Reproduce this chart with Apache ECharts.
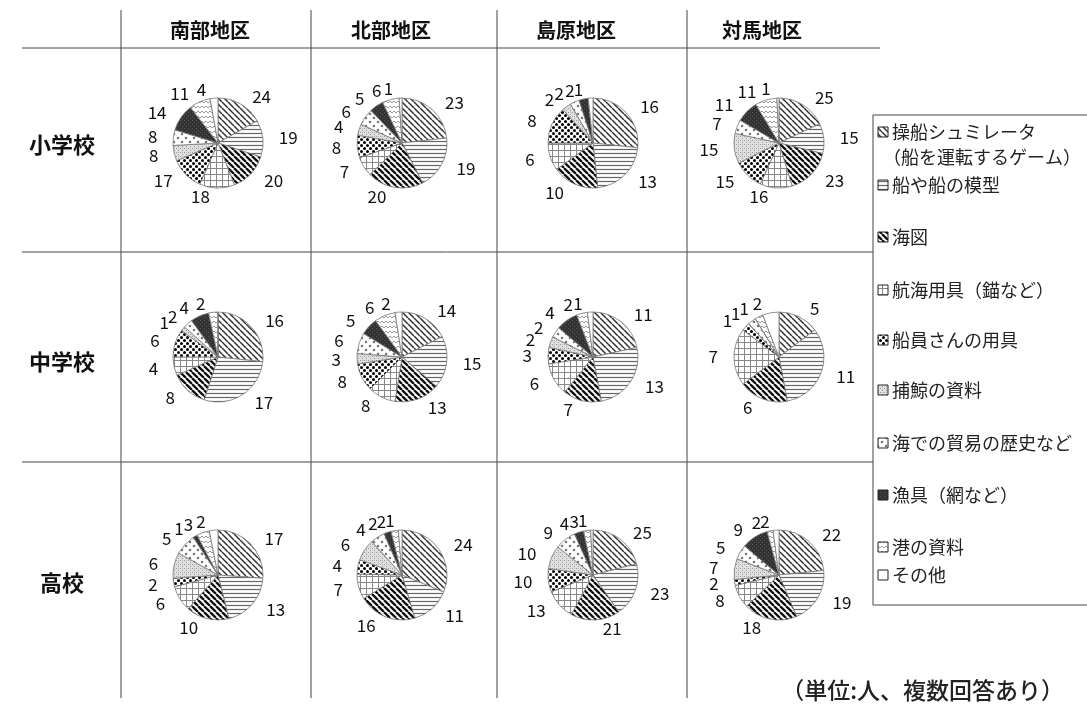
<!DOCTYPE html>
<html><head><meta charset="utf-8">
<script src="https://cdn.jsdelivr.net/npm/echarts@6/dist/echarts.min.js"></script>
<style>html,body{margin:0;padding:0;background:#fff}#c{width:1087px;height:709px}</style>
</head><body><div id="c"></div>
<script>
const categories = ['操船シュミレータ（船を運転するゲーム）','船や船の模型','海図','航海用具（錨など）','船員さんの用具','捕鯨の資料','海での貿易の歴史など','漁具（網など）','港の資料','その他'];
const regions = ['南部地区','北部地区','島原地区','対馬地区'];
const schools = ['小学校','中学校','高校'];
// 小学校
const elemNanbu   = [24,19,20,18,17,8,8,14,11,4];
const elemHokubu  = [23,19,20,7,8,4,6,5,6,1];
const elemShimabara = [16,13,10,6,8,2,2,2,0,1];
const elemTsushima = [25,15,23,16,15,15,7,11,11,1];
// 中学校
const juniorNanbu = [16,17,8,4,6,1,2,4,2,0];
const juniorHokubu = [14,15,13,8,8,3,6,5,6,2];
const juniorShimabara = [11,13,7,6,3,2,2,4,2,1];
const juniorTsushima = [5,11,6,7,1,0,1,0,1,2];
// 高校
const highNanbu = [17,13,10,6,2,6,5,1,3,2];
const highHokubu = [24,11,16,7,4,6,4,2,2,1];
const highShimabara = [25,23,21,13,10,10,9,4,3,1];
const highTsushima = [22,19,18,8,2,7,5,9,2,2];
const footnote = '（単位:人、複数回答あり）';

const grid = [
  [elemNanbu, elemHokubu, elemShimabara, elemTsushima],
  [juniorNanbu, juniorHokubu, juniorShimabara, juniorTsushima],
  [highNanbu, highHokubu, highShimabara, highTsushima]
];

function tile(w,h,draw,bg){const c=document.createElement('canvas');c.width=w;c.height=h;const g=c.getContext('2d');g.fillStyle=bg||'#fff';g.fillRect(0,0,w,h);draw(g,w,h);return c;}
function diag(s,col,lw){return tile(s,s,(g)=>{g.strokeStyle=col;g.lineWidth=lw;g.beginPath();for(let k=-1;k<=1;k++){g.moveTo(k*s,0);g.lineTo(k*s+s,s);}g.stroke();});}
const pats = [
  diag(6,'#333',1.5),
  tile(8,4,(g)=>{g.strokeStyle='#666';g.lineWidth=1.2;g.beginPath();g.moveTo(0,1.5);g.lineTo(8,1.5);g.stroke();}),
  diag(6,'#111',2.3),
  tile(6,6,(g)=>{g.strokeStyle='#888';g.lineWidth=1;g.beginPath();g.moveTo(0,0.5);g.lineTo(6,0.5);g.moveTo(0.5,0);g.lineTo(0.5,6);g.stroke();}),
  tile(6,6,(g)=>{g.fillStyle='#000';[[1.5,1.5],[4.5,4.5]].forEach(p=>{g.beginPath();g.arc(p[0],p[1],1.5,0,Math.PI*2);g.fill();});}),
  tile(4,4,(g)=>{g.fillStyle='#9a9a9a';g.fillRect(0,0,1,1);g.fillRect(2,2,1,1);g.fillStyle='#bbb';g.fillRect(2,0,1,1);},'#e0e0e0'),
  tile(8,8,(g)=>{g.fillStyle='#666';[[2,2],[6,6]].forEach(p=>{g.beginPath();g.moveTo(p[0],p[1]-1.5);g.lineTo(p[0]+1.5,p[1]);g.lineTo(p[0],p[1]+1.5);g.lineTo(p[0]-1.5,p[1]);g.closePath();g.fill();});}),
  tile(4,4,(g)=>{g.fillStyle='#555';g.fillRect(0,0,1,1);g.fillRect(2,2,1,1);},'#333'),
  tile(8,5,(g)=>{g.strokeStyle='#999';g.lineWidth=1;g.beginPath();g.moveTo(0,3);g.lineTo(2,1);g.lineTo(4,3);g.lineTo(6,1);g.lineTo(8,3);g.stroke();}),
  tile(4,4,()=>{})
];

const centersX = [218, 402, 593, 779];
const centersY = [143, 357, 575];

// per-series label de-overlap: later labels are nudged right if they overlap earlier ones
const placed = {};
function nudge(params){
  const key = params.seriesIndex;
  if (params.dataIndex === 0 || !placed[key]) placed[key] = [];
  const r = params.labelRect;
  if (!params.text || !r || r.width === 0) return {};
  let dx = 0;
  const list = placed[key];
  for (let iter = 0; iter < 12; iter++) {
    let moved = false;
    for (const q of list) {
      const x = r.x + dx;
      if (x < q.x + q.width - 1 && x + r.width > q.x + 1 && r.y < q.y + q.height - 5 && r.y + r.height > q.y + 5) {
        dx = q.x + q.width - r.x - 1;
        moved = true;
      }
    }
    if (!moved) break;
  }
  list.push({x:r.x+dx, y:r.y, width:r.width, height:r.height});
  return {dx};
}

const series = [];
grid.forEach((row,ri)=>{
  row.forEach((vals,ci)=>{
    series.push({
      type:'pie', center:[centersX[ci], centersY[ri]], radius:45, startAngle:90, clockwise:true,
      silent:true, animation:false, avoidLabelOverlap:false,
      itemStyle:{borderColor:'#777',borderWidth:0.8},
      label:{show:true, position:'outside', formatter:(p)=>p.value?String(p.value):'', fontSize:17, color:'#111', fontFamily:'"Noto Sans CJK JP", sans-serif'},
      labelLine:{show:false, length:9, length2:2},
      labelLayout: nudge,
      data: vals.map((v,i)=>({name:categories[i], value:v, itemStyle:{color:{image:pats[i], repeat:'repeat'}}}))
    });
  });
});

const graphics = [];
const lineStyle = {stroke:'#444', lineWidth:1};
[48,252,462].forEach(y=>graphics.push({type:'line', shape:{x1:22,y1:y,x2:(y===48?880:873),y2:y}, style:lineStyle, silent:true}));
[121,311,497,687].forEach(x=>graphics.push({type:'line', shape:{x1:x,y1:10,x2:x,y2:698}, style:lineStyle, silent:true}));
const headerX = [210, 391, 576, 762];
regions.forEach((r,i)=>graphics.push({type:'text', x:headerX[i], y:30, style:{text:r, font:'bold 20px "Noto Sans CJK JP"', fill:'#111', align:'center', verticalAlign:'middle'}}));
const rowY = [145, 362, 583];
schools.forEach((s,i)=>graphics.push({type:'text', x:62, y:rowY[i], style:{text:s, font:'bold 22px "Noto Sans CJK JP"', fill:'#111', align:'center', verticalAlign:'middle'}}));
graphics.push({type:'rect', shape:{x:873,y:115,width:230,height:490}, style:{fill:'#fff', stroke:'#444', lineWidth:1}});
const legendY = [132,185,237,290,340,390,443,495,547,575];
const legendText = ['操船シュミレータ','船や船の模型','海図','航海用具（錨など）','船員さんの用具','捕鯨の資料','海での貿易の歴史など','漁具（網など）','港の資料','その他'];
legendText.forEach((t,i)=>{
  graphics.push({type:'rect', shape:{x:878,y:legendY[i]-5,width:10,height:10}, style:{fill:{image:pats[i], repeat:'repeat'}, stroke:'#222', lineWidth:1}});
  graphics.push({type:'text', x:892, y:legendY[i], style:{text:t, font:'18px "Noto Sans CJK JP"', fill:'#222', verticalAlign:'middle'}});
});
graphics.push({type:'text', x:883, y:157, style:{text:'（船を運転するゲーム）', font:'18px "Noto Sans CJK JP"', fill:'#222', verticalAlign:'middle'}});
graphics.push({type:'text', x:1064, y:690, style:{text:footnote, font:'500 23px "Noto Sans CJK JP"', fill:'#222', align:'right', verticalAlign:'middle'}});

const chart = echarts.init(document.getElementById('c'), null, {renderer:'canvas'});
chart.setOption({backgroundColor:'#fff', animation:false, series, graphic:graphics});
</script></body></html>
